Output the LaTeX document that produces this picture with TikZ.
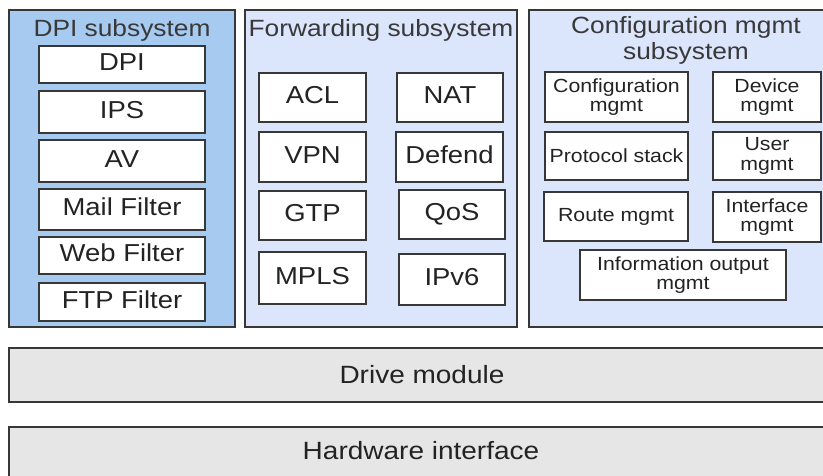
\documentclass[tikz,border=0pt]{standalone}
\usepackage{fontspec}
\setmainfont{Liberation Sans}[FakeStretch=1.12]
\definecolor{dpiblue}{RGB}{166,202,240}
\definecolor{fwdblue}{RGB}{219,229,251}
\definecolor{basegray}{RGB}{230,230,230}
\definecolor{edgecol}{RGB}{55,55,55}
\definecolor{txtcol}{RGB}{35,35,35}
\newcommand{\bnode}[7]{\node[#1, minimum width={#5pt-#3pt}, minimum height={#6pt-#4pt}] (#2) at ({(#3+#5)/2},{(#4+#6)/2}) {#7};}
\tikzset{
  shell/.style={draw=edgecol, line width=1.4pt, inner sep=0pt, outer sep=0pt},
  dpisys/.style={shell, fill=dpiblue},
  ltsys/.style={shell, fill=fwdblue},
  basesys/.style={shell, fill=basegray, text=txtcol, font=\fontsize{25}{27}\selectfont},
  inbox/.style={draw=edgecol, line width=1.2pt, fill=white, inner sep=0pt, outer sep=0pt, text=txtcol, font=\fontsize{24.5}{26}\selectfont, text height=18pt, text depth=6pt},
  smallbox/.style={draw=edgecol, line width=1.2pt, fill=white, inner sep=0pt, outer sep=0pt, text=txtcol, align=center, font=\fontsize{19}{19.5}\selectfont},
  title/.style={text=txtcol!90!white, inner sep=0pt, align=center, font=\fontsize{23.5}{26}\selectfont}
}
\begin{document}
\begin{tikzpicture}[x=1pt, y=-1pt]
\useasboundingbox (0,0) rectangle (823,475);
\clip (0,0) rectangle (823,475);
\fill[white] (0,0) rectangle (823,475);
% subsystems
\bnode{dpisys}{dpi}{9}{10}{235}{327}{}
\bnode{ltsys}{fwd}{245}{10}{517}{327}{}
\bnode{ltsys}{cfg}{529}{10}{835}{327}{}
\node[title] (dpititle) at (122,30) {DPI subsystem};
\node[title] (fwdtitle) at (381,30) {Forwarding subsystem};
\node[title] (cfgtitle) at (686,40) {Configuration mgmt\\subsystem};
% DPI modules
\bnode{inbox}{mdpi}{39}{46}{205}{83}{DPI}
\bnode{inbox}{mips}{39}{91}{205}{133}{IPS}
\bnode{inbox}{mav}{39}{140}{205}{182}{AV}
\bnode{inbox}{mmail}{39}{189}{205}{230}{Mail Filter}
\bnode{inbox}{mweb}{39}{237}{205}{274}{Web Filter}
\bnode{inbox}{mftp}{39}{283}{205}{321}{FTP Filter}
% Forwarding modules
\bnode{inbox}{macl}{259}{73}{366}{122}{ACL}
\bnode{inbox}{mnat}{397}{73}{503}{122}{NAT}
\bnode{inbox}{mvpn}{259}{132}{366}{182}{VPN}
\bnode{inbox}{mdef}{396}{132}{503}{182}{Defend}
\bnode{inbox}{mgtp}{259}{191}{366}{240}{GTP}
\bnode{inbox}{mqos}{399}{190}{505}{239}{QoS}
\bnode{inbox}{mmpls}{259}{252}{366}{304}{MPLS}
\bnode{inbox}{mipv6}{399}{254}{505}{305}{IPv6}
% Configuration modules
\bnode{smallbox}{mcfg}{545}{72}{688}{122}{Configuration\\mgmt}
\bnode{smallbox}{mdev}{713}{72}{821}{122}{Device\\mgmt}
\bnode{smallbox}{mproto}{545}{132}{688}{180}{Protocol stack}
\bnode{smallbox}{muser}{713}{132}{821}{180}{User\\mgmt}
\bnode{smallbox}{mroute}{544}{192}{688}{241}{Route mgmt}
\bnode{smallbox}{mif}{713}{192}{821}{242}{Interface\\mgmt}
\bnode{smallbox}{minfo}{580}{250}{786}{300}{Information output\\mgmt}
% base layers
\bnode{basesys}{drive}{9}{348}{835}{402}{Drive module}
\bnode{basesys}{hw}{9}{427}{835}{490}{}
\node[text=txtcol, font=\fontsize{25}{27}\selectfont, inner sep=0pt] (hwlabel) at (421,451) {Hardware interface};
\end{tikzpicture}
\end{document}
